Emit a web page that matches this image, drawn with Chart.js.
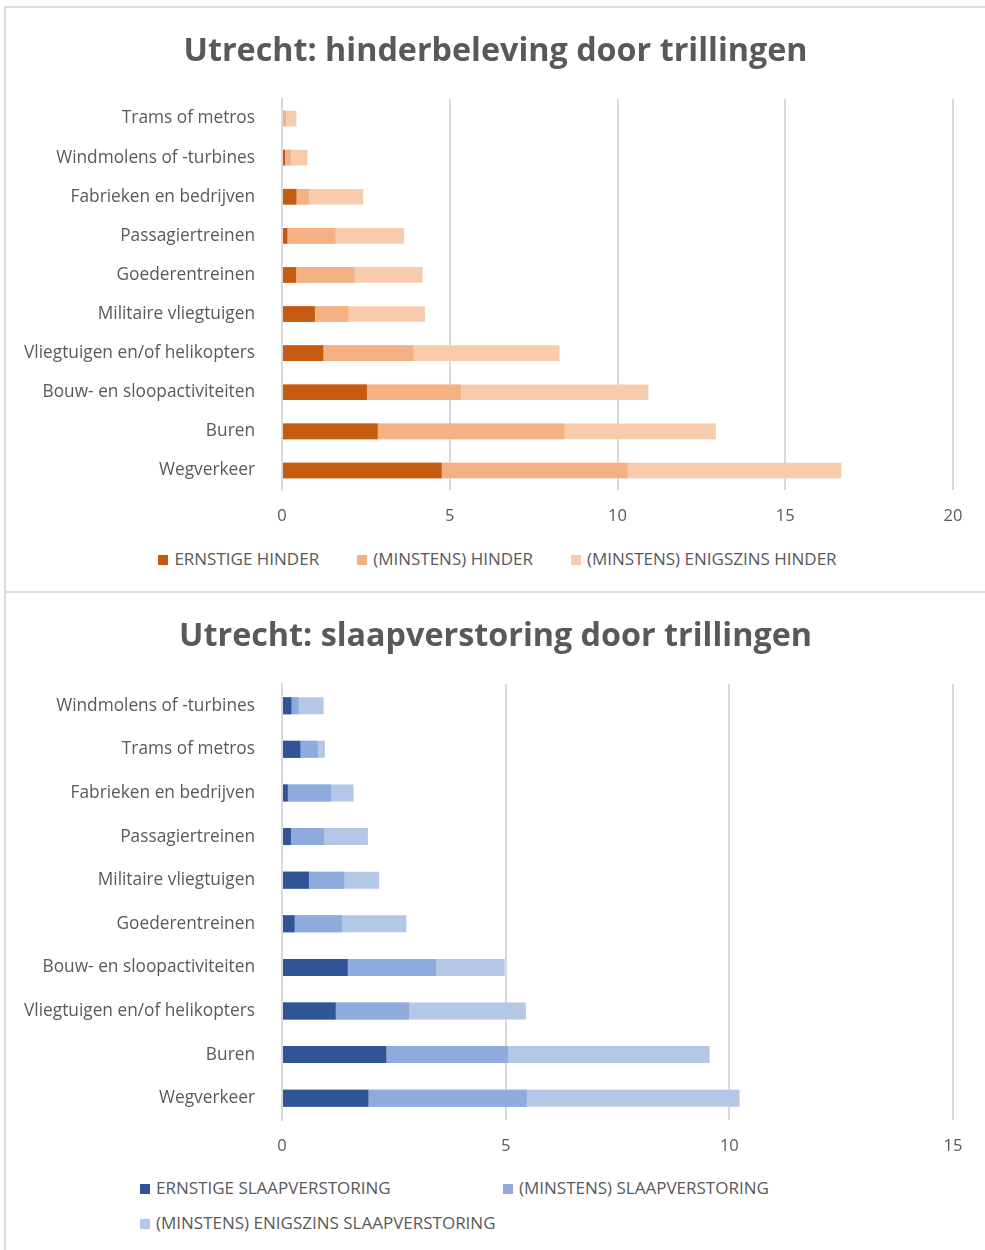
<!DOCTYPE html>
<html>
<head>
<meta charset="utf-8">
<script src="https://cdn.jsdelivr.net/npm/chart.js@4/dist/chart.umd.min.js"></script>
<style>
  body { margin: 0; background: #fff; width: 985px; height: 1250px; position: relative; overflow: hidden; font-family: "Open Sans", sans-serif; }
  .card { position: absolute; left: 4px; right: -4px; border: 2px solid #dcdcdc; background: #fff; }
  #card1 { top: 6px; height: 583px; }
  #card2 { top: 591px; height: 700px; }
  .wrap { position: absolute; left: 0; width: 991px; }
  #wrap1 { top: 0; height: 540px; }
  #wrap2 { top: 592px; height: 566px; }
  .legend { position: absolute; color: #595959; font-size: 17px; }
  .legend span.box { display: inline-block; width: 10px; height: 10px; margin-right: 6px; vertical-align: 0px; }
  #legend1 { top: 547px; left: 0; width: 985px; display: flex; justify-content: center; gap: 38px; padding-left: 10px; box-sizing: border-box; }
  #legend2 { top: 1176px; left: 140px; display: grid; grid-template-columns: 363px 363px; row-gap: 12px; }
</style>
</head>
<body>
<div class="card" id="card1"></div>
<div class="card" id="card2"></div>
<div class="wrap" id="wrap1"><canvas id="hinder"></canvas></div>
<div class="wrap" id="wrap2"><canvas id="slaap"></canvas></div>
<div class="legend" id="legend1"></div>
<div class="legend" id="legend2"></div>
<script>
// hinderbeleving (%), cumulatieve waarden per categorie
var hinderBronnen = ['Trams of metros', 'Windmolens of -turbines', 'Fabrieken en bedrijven', 'Passagiertreinen', 'Goederentreinen',
  'Militaire vliegtuigen', 'Vliegtuigen en/of helikopters', 'Bouw- en sloopactiviteiten', 'Buren', 'Wegverkeer'];
var ernstigeHinder = [0, 0.09, 0.43, 0.16, 0.42, 0.98, 1.23, 2.53, 2.85, 4.76];
var minstensHinder = [0.12, 0.26, 0.80, 1.59, 2.16, 1.98, 3.92, 5.33, 8.42, 10.3];
var enigszinsHinder = [0.43, 0.76, 2.42, 3.64, 4.19, 4.26, 8.27, 10.92, 12.93, 16.67];
var hinderTicks = [0, 5, 10, 15, 20];

// slaapverstoring (%)
var slaapBronnen = ['Windmolens of -turbines', 'Trams of metros', 'Fabrieken en bedrijven', 'Passagiertreinen', 'Militaire vliegtuigen',
  'Goederentreinen', 'Bouw- en sloopactiviteiten', 'Vliegtuigen en/of helikopters', 'Buren', 'Wegverkeer'];
var ernstigeSlaap = [0.21, 0.41, 0.13, 0.20, 0.60, 0.28, 1.47, 1.20, 2.33, 1.93];
var minstensSlaap = [0.37, 0.80, 1.10, 0.94, 1.39, 1.34, 3.44, 2.84, 5.05, 5.47];
var enigszinsSlaap = [0.93, 0.96, 1.60, 1.92, 2.17, 2.78, 4.98, 5.45, 9.56, 10.23];
var slaapTicks = [0, 5, 10, 15];

var hinderLabels = ['ERNSTIGE HINDER', '(MINSTENS) HINDER', '(MINSTENS) ENIGSZINS HINDER'];
var slaapLabels = ['ERNSTIGE SLAAPVERSTORING', '(MINSTENS) SLAAPVERSTORING', '(MINSTENS) ENIGSZINS SLAAPVERSTORING'];
var oranje = ['#c55a11', '#f4b183', '#f8cbad'];
var blauw = ['#2f5597', '#8faadc', '#b4c7e7'];

var tekst = '#595959';

function maakGrafiek(id, titel, bronnen, reeksen, namen, kleuren, ticks, maten) {
  var datasets = reeksen.map(function (r, i) {
    return { label: namen[i], data: r, backgroundColor: kleuren[i], borderWidth: 0,
      barPercentage: maten.bar, categoryPercentage: 1 };
  });
  return new Chart(document.getElementById(id), {
    type: 'bar',
    data: { labels: bronnen, datasets: datasets },
    options: {
      indexAxis: 'y',
      responsive: true,
      maintainAspectRatio: false,
      animation: false,
      layout: { padding: 0 },
      plugins: {
        legend: { display: false },
        tooltip: { enabled: false },
        title: {
          display: true, text: titel, color: tekst,
          font: { family: 'Open Sans', size: 32.3, weight: 'bold' },
          padding: { top: maten.titelTop, bottom: maten.titelBottom }
        }
      },
      scales: {
        y: {
          stacked: true,
          afterFit: function (s) { s.width = 282; },
          grid: { display: false, drawTicks: false },
          border: { color: '#d9d9d9', width: 2 },
          ticks: { color: tekst, padding: 27, font: { family: 'Open Sans', size: 17.3 } }
        },
        // lege as rechts: houdt ruimte vrij zonder de titel te verschuiven
        rechts: {
          type: 'category', position: 'right',
          afterFit: function (s) { s.width = 38; },
          grid: { display: false, drawTicks: false },
          border: { display: false },
          ticks: { display: false }
        },
        x: {
          stacked: false,
          min: ticks[0], max: ticks[ticks.length - 1],
          afterBuildTicks: function (s) { s.ticks = ticks.map(function (v) { return { value: v }; }); },
          afterFit: function (s) { s.height = maten.asHoogte; },
          grid: { color: '#d9d9d9', lineWidth: 2, drawTicks: false },
          border: { display: false },
          ticks: { color: tekst, padding: 16, font: { family: 'Open Sans', size: 16.5 } }
        }
      }
    }
  });
}

function maakLegenda(id, namen, kleuren) {
  var el = document.getElementById(id);
  namen.forEach(function (n, i) {
    var d = document.createElement('div');
    d.innerHTML = '<span class="box" style="background:' + kleuren[i] + '"></span>' + n;
    el.appendChild(d);
  });
}

maakGrafiek('hinder', 'Utrecht: hinderbeleving door trillingen', hinderBronnen,
  [ernstigeHinder, minstensHinder, enigszinsHinder], hinderLabels, oranje, hinderTicks,
  { bar: 0.4, titelTop: 32.6, titelBottom: 27.6, asHoogte: 50 });
maakGrafiek('slaap', 'Utrecht: slaapverstoring door trillingen', slaapBronnen,
  [ernstigeSlaap, minstensSlaap, enigszinsSlaap], slaapLabels, blauw, slaapTicks,
  { bar: 0.39, titelTop: 25.6, titelBottom: 27.6, asHoogte: 38 });
maakLegenda('legend1', hinderLabels, oranje);
maakLegenda('legend2', slaapLabels, blauw);
</script>
</body>
</html>
